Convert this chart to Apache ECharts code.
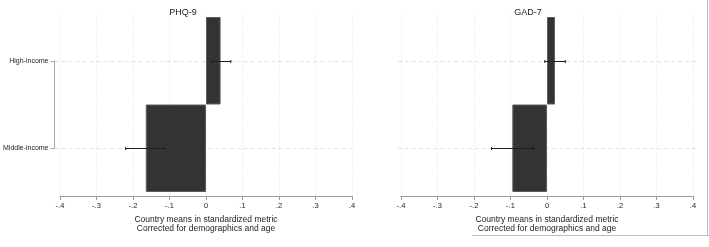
<!DOCTYPE html>
<html>
<head>
<meta charset="utf-8">
<script src="https://cdn.jsdelivr.net/npm/echarts@6/dist/echarts.min.js"></script>
<style>
html,body{margin:0;padding:0;background:#fff;}
#chart{width:709px;height:247px;}
</style>
</head>
<body>
<div id="chart"></div>
<script>
const categories = ['High-income', 'Middle-income'];
const panelTitles = ['PHQ-9', 'GAD-7'];
const phqMeans = [0.04, -0.165];
const phqLow = [0.015, -0.22];
const phqHigh = [0.068, -0.113];
const gadMeans = [0.022, -0.095];
const gadLow = [-0.006, -0.152];
const gadHigh = [0.05, -0.037];
const xTicks = [-0.4, -0.3, -0.2, -0.1, 0, 0.1, 0.2, 0.3, 0.4];
const tickLabels = ['-.4', '-.3', '-.2', '-.1', '0', '.1', '.2', '.3', '.4'];
const axisTitle = 'Country means in standardized metric\nCorrected for demographics and age';

const FONT = '"Liberation Sans", Arial, sans-serif';
const TXT = '#222222';

function fmt(v) {
  for (let i = 0; i < xTicks.length; i++) {
    if (Math.abs(xTicks[i] - v) < 1e-6) return tickLabels[i];
  }
  return '';
}

const panels = [
  { left: 60, width: 292, yLeft: 54, yWidth: 298, titleX: 178, showY: true,
    means: phqMeans, low: phqLow, high: phqHigh },
  { left: 401, width: 292, yLeft: 398, yWidth: 300, titleX: 523, showY: false,
    means: gadMeans, low: gadLow, high: gadHigh }
];

const grid = [], xAxis = [], yAxis = [], series = [], title = [];
panels.forEach((p, k) => {
  const base = k * 3;
  grid.push({ left: p.left, width: p.width, top: 17, height: 175 });
  grid.push({ left: p.left, width: p.width, top: 14, height: 182 });
  grid.push({ left: p.yLeft, width: p.yWidth, top: 61, height: 87 });

  xAxis.push({ gridIndex: base, type: 'value', min: -0.4, max: 0.4, show: false });
  xAxis.push({
    gridIndex: base + 1, type: 'value', min: -0.4, max: 0.4, interval: 0.1,
    axisLine: { show: true, onZero: false, lineStyle: { color: '#9a9a9a', width: 1 } },
    axisTick: { show: true, length: 4, lineStyle: { color: '#9a9a9a' } },
    axisLabel: { formatter: fmt, fontSize: 7.5, color: TXT, margin: 6, fontFamily: FONT },
    splitLine: { show: true, lineStyle: { color: '#e4e4e4', type: [1, 2], width: 1 } },
    name: axisTitle, nameLocation: 'middle', nameGap: 16,
    nameTextStyle: { fontSize: 8.5, color: TXT, lineHeight: 9, fontFamily: FONT }
  });
  xAxis.push({ gridIndex: base + 2, type: 'value', min: -0.4, max: 0.4, show: false });

  yAxis.push({ gridIndex: base, type: 'category', data: categories, inverse: true, show: false });
  yAxis.push({ gridIndex: base + 1, type: 'value', show: false });
  yAxis.push({
    gridIndex: base + 2, type: 'category', data: categories, inverse: true, boundaryGap: false,
    axisLine: { show: p.showY, onZero: false, lineStyle: { color: '#aaaaaa', width: 1 } },
    axisTick: { show: p.showY, length: 4, lineStyle: { color: '#aaaaaa' } },
    axisLabel: { show: p.showY, fontSize: 7, color: TXT, margin: 6, fontFamily: FONT },
    splitLine: { show: true, lineStyle: { color: '#e2e2e2', type: [4, 3], width: 1 } }
  });

  series.push({
    type: 'bar', xAxisIndex: base, yAxisIndex: base,
    data: p.means, barWidth: '100%', barCategoryGap: '0%',
    itemStyle: { color: '#333333', borderColor: '#5e5e5e', borderWidth: 1 },
    z: 2
  });
  series.push({
    type: 'custom', xAxisIndex: base, yAxisIndex: base,
    data: categories.map((c, i) => [i, p.low[i], p.high[i]]),
    encode: { y: 0, x: [1, 2] },
    z: 3,
    renderItem: function (params, api) {
      const cat = api.value(0);
      const a = api.coord([api.value(1), cat]);
      const b = api.coord([api.value(2), cat]);
      const style = { stroke: '#1e1e1e', lineWidth: 1 };
      const y = Math.round(a[1]) + 0.5;
      return {
        type: 'group',
        children: [
          { type: 'line', shape: { x1: a[0], y1: y, x2: b[0], y2: y }, style: style },
          { type: 'line', shape: { x1: a[0], y1: y - 1.5, x2: a[0], y2: y + 1.5 }, style: style },
          { type: 'line', shape: { x1: b[0], y1: y - 1.5, x2: b[0], y2: y + 1.5 }, style: style }
        ]
      };
    }
  });

  title.push({
    text: panelTitles[k], left: p.titleX, top: 3, textAlign: 'center',
    textStyle: { fontSize: 9, fontWeight: 'normal', color: TXT, fontFamily: FONT }
  });
});

const chart = echarts.init(document.getElementById('chart'), null, { renderer: 'canvas' });
chart.setOption({
  backgroundColor: '#ffffff',
  animation: false,
  textStyle: { fontFamily: FONT },
  title: title,
  grid: grid,
  xAxis: xAxis,
  yAxis: yAxis,
  series: series,
  graphic: [
    { type: 'line', silent: true, shape: { x1: 472, y1: 235.5, x2: 709, y2: 235.5 },
      style: { stroke: '#bdbdbd', lineWidth: 1 } },
    { type: 'line', silent: true, shape: { x1: 707.5, y1: 0, x2: 707.5, y2: 235.5 },
      style: { stroke: '#bdbdbd', lineWidth: 1 } }
  ]
});
</script>
</body>
</html>
